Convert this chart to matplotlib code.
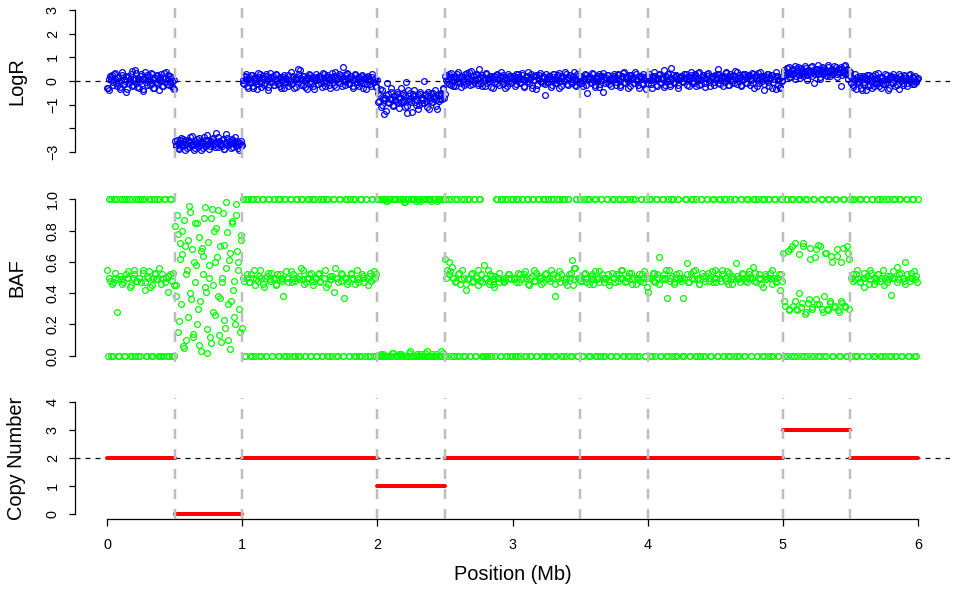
"""
LogR / BAF / copy number panels along a 6 Mb region, drawn like an R base plot.
"""

import matplotlib
matplotlib.use('Agg')
import matplotlib.pyplot as plt
import numpy as np

plt.rcParams['font.family'] = ['Liberation Sans', 'DejaVu Sans']

# ---------------------------------------------------------------------------
# Data.  Two interleaved probe sets per segment,
# each one evenly spaced over the segment.
# ---------------------------------------------------------------------------

# segment bounds in Mb
seg_starts = [0.0, 0.5, 1.0, 2.0, 2.5, 5.0, 5.5]
seg_ends = [0.5, 1.0, 2.0, 2.5, 5.0, 5.5, 6.0]

# --- LogR, probe set 1
logr_a = [-.28, -.38, .22, .15, -.05, .30, .08, -.21, .12, -.35, .05, .25, -.12, .02, -.45,
          .18, -.08, .10, .42, -.18, .06, .35, -.25, .14, -.02, .28, -.32, .09, .38, -.15,
          .04, .20, -.10, .31, -.28, .11, -.06, .24, -.38, .16, .01, -.20, .33, .07, -.14,
          .26, -.04, .12, -.22, -.35]
logr_b = [-2.55, -2.75, -2.62, -2.88, -2.5, -2.68, -2.45, -2.72, -2.6, -2.82, -2.55, -2.38,
          -2.7, -2.65, -2.9, -2.52, -2.6, -2.78, -2.42, -2.66, -2.58, -2.85, -2.5, -2.7,
          -2.28, -2.62, -2.75, -2.55, -2.4, -2.68, -2.8, -2.58, -2.35, -2.7, -2.62, -2.5,
          -2.88, -2.6, -2.22, -2.72, -2.55, -2.65, -2.45, -2.78, -2.58, -2.7, -2.52, -2.82,
          -2.62, -2.75]
logr_c = [.05, -.12, .2, .08, -.3, .15, -.05, .25, -.2, .1, .02, -.35, .18, .3, -.08, .12,
          -.15, .22, .05, -.25, .35, -.02, .14, -.18, .08, .27, -.1, .12, -.22, .04, .16,
          -.3, .1, -.06, .24, .01, -.14, .19, -.28, .12, .07, .5, .3, -.16, .09, .2, -.24,
          .03, .15, -.1, .26, -.02, .11, -.33, .17, .06, -.12, .22, -.07, .13, .28, -.2,
          .04, .18, -.15, .1, .32, -.05, .2, -.26, .08, .14, -.1, .24, .6, .02, -.18, .3,
          .12, -.08, .2, .06, -.22, .27, .1, -.12, .16, -.04, .22, -.3, .08, .18, -.14, .12,
          .02, -.2, .15, -.06, .1, -.25]
logr_d = [-.5, -.85, -.35, -1.0, -.7, -1.4, -.6, -.1, -.9, -.75, -.45, -1.05, -.65, -.8,
          -.55, -.95, -.7, -.3, -.85, -.6, -1.1, -.05, -1.35, -.75, -.5, -.9, -.65, -.4,
          -1.0, -.8, -1.2, -.55, -.7, -.95, 0.0, -.6, -.85, -.45, -1.2, -.7, -.9, -.5,
          -.65, -.8, -1.2, -.55, -.75, -.6, -.35, -.7]
logr_e = [.2, -.05, .1, .28, -.15, .05, .18, -.22, .12, .3, .02, -.1, .22, .08, -.18, .15,
          .35, -.05, .1, .42, -.12, .2, .05, .25, -.08,
          .5, .12, -.2, .18, .04, .3, -.1, .15, .22, -.25, .08, .2, -.05, .28, .1, -.15,
          .16, .02, .25, -.3, .12, .06, .2, -.1, .14,
          .08, .22, -.12, .15, .3, -.05, .1, .26, -.2, .04, .18, .38, -.08, .12, -.3, .2,
          .06, .24, -.15, .1, .32, .02, -.1, .16, -.6,
          .12, -.05, .22, .08, -.18, .28, .1, -.1, .2, .35, .02, -.22, .15, .06, .3, -.12,
          .18, .25, -.05, .1, .4, -.15, .08, .2, -.08,
          .05, .15, -.2, .1, .25, -.5, .08, .18, -.1, .3, .02, -.15, .12, .22, -.25, .06,
          .2, .32, -.08, .14, .26, -.12, .04, .18, .1,
          .22, -.05, .12, .3, -.15, .08, .2, .36, -.1, .15, .02, .25, -.2, .1, .18, -.08,
          .28, .05, -.3, .16, .22, -.12, .1, .06, .2,
          -.1, .18, .05, -.3, .12, .22, -.18, .08, .3, -.05, .15, .1, -.25, .2, .02, .28,
          -.12, .55, .1, -.08, .18, .25, -.15, .06, .14,
          .22, -.05, .12, .3, .08, -.2, .16, .26, .02, -.1, .2, .1, .34, -.15, .06, .18,
          .24, -.08, .12, .3, .04, -.22, .15, .2, -.05,
          .1, .28, .5, -.12, .18, .08, .22, -.05, .32, .14, -.18, .2, .06, .26, -.1, .12,
          .38, .02, .18, -.15, .24, .1, .3, -.08, .16,
          .2, .05, .34, -.1, .15, .26, -.2, .1, .4, .02, .22, -.12, .18, .3, -.05, .12,
          .24, -.28, .08, .2, .36, -.15, .1, -.25, .05]
logr_f = [.2, .45, .3, .55, .15, .4, .28, .5, .35, .1, .42, .6, .25, .38, .48, .2, .33, .55,
          .05, .4, .3, .62, .45, -.1, .36, .5, .28, .15, .42, .58, .32, .46, .25, .66, .38,
          .2, .5, .35, .44, .6, .28, .4, .52, -.22, .36, .62, .3, .48, .1, .42]
logr_g = [-.1, .12, -.25, .05, -.35, .18, -.05, .1, -.38, .2, -.15, .08, .25, -.2, .02, .15,
          -.3, .1, .28, -.08, .05, -.22, .18, .12, -.12, .3, -.05, .08, -.28, .15, .22, -.1,
          .04, .18, -.18, .1, .3, -.02, .12, -.15, .2, .06, -.08, .25, .1, -.12, .16, .02,
          -.05, .1]

# --- LogR, probe set 2
logr_a2 = [-.3, .1, .05, .25, -.15, .32, -.08, .18, .02, -.25, .4, -.12, .08, .22, -.35, .15,
           -.02, .3, -.2, .12, .45, -.1, .05, -.28, .2, .1, -.42, .16, -.05, .26, .02, -.18,
           .34, .08, -.3, .12, .22, -.1, .04, .3, -.22, .14, -.06, .38, .1, -.15, .2, .0,
           -.3, .06]
logr_b2 = [-2.7, -2.5, -2.82, -2.6, -2.4, -2.75, -2.55, -2.92, -2.65, -2.48, -2.78, -2.58,
           -2.32, -2.7, -2.85, -2.6, -2.45, -2.72, -2.55, -2.9, -2.62, -2.38, -2.76, -2.5,
           -2.68, -2.86, -2.56, -2.44, -2.7, -2.6, -2.2, -2.8, -2.52, -2.66, -2.74, -2.46,
           -2.88, -2.6, -2.4, -2.7, -2.56, -2.82, -2.48, -2.64, -2.36, -2.76, -2.6, -2.9,
           -2.55, -2.7]
logr_c2 = [-.08, .15, .3, -.2, .1, -.02, .24, -.3, .06, .18, -.12, .34, .02, -.25, .12, .2,
           -.1, .28, -.38, .08, .15, -.05, .22, -.18, .3, .04, -.14, .18, -.3, .1, .26, -.06,
           .14, -.22, .02, .36, -.1, .2, .08, -.26, .16, -.04, .45, .1, -.18, .22, .04, -.32,
           .14, .28, -.08, .18, -.2, .06, .3, -.12, .2, .1, -.24, .35, .02, -.1, .26, .12,
           -.3, .18, .08, -.16, .4, .05, -.06, .3, .16, -.22, .1, .24, -.02, .34, -.14, .12,
           .2, -.28, .08, .3, -.06, .16, -.2, .04, .26, -.1, .14, -.35, .2, .08, -.12, .28,
           -.04, .1, -.2, .05]
logr_d2 = [-.9, -.6, -1.1, -.4, -.8, -.7, -1.25, -.55, -.95, -.3, -.75, -1.0, -.6, -.85,
           -.45, -1.15, -.7, -.9, -.5, -.8, -.65, -1.05, -.4, -.85, -.7, -1.3, -.55, -.9,
           -.75, -.6, -1.0, -.45, -.8, -.7, -.95, -.55, -1.1, -.65, -.8, -.5, -.9, -.7, -.4,
           -1.05, -.6, -.85, -.5, -.75, -.3, -.55]
logr_e2 = [.05, .25, -.12, .15, .32, -.2, .1, .2, -.05, .36, .12, -.25, .18, .02, .28, -.1,
           .14, .4, -.15, .06, .22, -.05, .3, .1, -.18,
           .15, -.08, .26, .06, -.2, .34, .1, -.02, .2, .12, -.3, .18, .26, -.1, .04, .22,
           .36, -.14, .1, .16, -.22, .3, .02, .2, -.06,
           .12, -.2, .28, .04, .18, -.1, .34, .08, -.25, .15, .22, -.02, .1, .3, -.16, .06,
           .2, -.35, .14, .26, -.05, .12, .2, -.12, .3,
           -.05, .2, .1, -.25, .16, .3, -.1, .06, .24, -.3, .12, .2, -.02, .36, .08, -.18,
           .14, .26, -.1, .2, .04, -.22, .3, .1, .18,
           .22, -.1, .12, .28, -.18, .06, .2, -.05, .34, .1, -.24, .16, .02, .3, -.12, .22,
           -.45, .1, .18, -.06, .26, .04, -.2, .14, .3,
           .1, -.15, .24, .06, -.25, .18, .32, -.05, .12, .2, -.3, .08, .26, .14, -.1, .36,
           .02, -.18, .2, .1, -.08, .28, .16, -.35, .12,
           .3, .05, -.12, .2, .38, .08, -.2, .14, .24, -.08, .1, .45, -.15, .18, .3, .02,
           -.22, .12, .26, -.05, .2, .08, -.3, .16, .22,
           -.02, .3, .12, -.18, .22, .06, .36, -.1, .16, .28, -.2, .1, .4, .04, -.12, .24,
           .14, -.25, .2, .32, -.06, .1, .18, -.15, .26,
           .16, -.1, .3, .06, .22, -.2, .12, .36, .04, -.15, .28, .1, -.05, .2, .42, -.12,
           .14, .26, -.22, .08, .3, .18, -.08, .12, .24,
           -.15, .1, .28, -.3, .16, .06, .32, -.1, .2, .12, -.36, .22, .04, .3, -.2, .14,
           .26, -.05, .1, -.32, .2, .06, -.28, .16, .02]
logr_f2 = [.4, .25, .55, .3, .6, .18, .45, .35, .65, .22, .5, .38, .12, .55, .3, .42, .62,
           .26, .48, .36, .58, .2, .44, .3, .52, .66, .34, .1, .46, .28, .56, .4, .22, .6,
           .36, .48, .3, .64, .42, .18, .5, .34, .58, .26, .44, .68, .32, .5, .24, .4]
logr_g2 = [.15, -.18, .08, .3, -.1, .02, .22, -.28, .12, -.05, .18, -.4, .1, .26, -.15, .05,
           .2, -.22, .14, -.08, .32, .0, -.3, .16, .06, -.12, .24, -.38, .1, .18, -.05, .28,
           -.2, .08, .14, -.32, .2, .04, -.1, .26, .12, -.2, .08, .3, -.06, .16, -.14, .22,
           .02, .12]

# --- BAF, probe set 1
baf_a = [.55, 1, .48, 0, .47, 1, .5, .28, 0, 1, .49, .46, 1, 0, .52, .5, 1, .44, 0, .5, .55,
         1, .48, 0, 1, .47, .53, 1, .42, 0, .5, .54, 1, .45, 0, .52, .49, 1, .56, 0, 0, .5,
         1, .47, 0, .51, .52, 1, 0, .45]
baf_b = [.83, .38, .78, .22, .72, .65, .06, .87, .1, .55, .74, .92, .36, .14, .6, .47, .85,
         .3, .07, .67, .69, .52, .95, .41, .02, .58, .12, .88, .45, .8, .26, .63, .93, .37,
         .09, .5, .71, .18, .98, .33, .61, .04, .85, .42, .25, .9, .67, .55, .15, .77]
baf_c = [1, .48, 0, .5, 1, .47, .52, 0, 1, .45, .49, 1, 0, .55, .5, 1, .44, 0, .51, 1, .48,
         .53, 0, 1, .5, .46, 1, 0, .52, .49, .38, 1, 0, .5, .47, 1, .54, 0, .5, .48, 1, 0,
         .51, .56, 1, .49, 0, .47, .5, 1, 0, .53, .45, 1, .5, 0, .52, .48, 1, 0, .5, .55, 1,
         .46, 0, .49, .51, 1, .41, 0, .5, .47, 1, .53, 0, .37, .5, 1, .48, 0, .52, .5, 1,
         .46, 0, .55, .49, 1, 0, .51, .47, 1, .5, 0, .53, .48, 1, 0, .5, .52]
baf_d = [0, 1, 1, 0, .01, 1, 0, .99, 0, 1, 0, .02, 1, 1, 0, 0, 1, .01, 0, 1, .98, 0, 1, 0,
         .03, 1, 0, 1, 0, .01, 1, .99, 0, 1, 0, .02, 0, 1, 1, 0, .01, 0, 1, 0, .99, 1, 0,
         .03, 1, 0]
baf_e = [.62, .55, 1, .52, 0, .57, .5, 1, .48, 0, .53, .46, 1, 0, .5, .42, 1, .49, 0, .52,
         .47, 1, 0, .51, .55,
         1, .48, 0, 0, .58, .5, 0, .46, .52, 0, .49, .44, .51, 1, .5, .47, 0, 1, .48, .5,
         0, 1, .52, 0, .49,
         1, .5, .47, 0, 1, .52, .49, 1, 0, .54, .5, 1, .45, 0, .51, 1, .48, .53, 0, 1, .5,
         .46, 1, 0, .52,
         .49, 1, 0, .55, .5, 1, .38, 0, .51, 1, .47, .52, 0, 1, .5, .45, 1, 0, .53, .61, .49,
         .56, 1, 0, .5,
         1, .48, 0, .52, .5, 1, .46, 0, .51, .49, 1, .54, 0, .5, .47, 1, .52, 0, .49, .5, 1,
         .45, 0, .53, .5,
         1, .52, 0, .48, 1, .55, .5, 0, .47, 1, .51, .53, 0, .49, 1, .5, .46, 0, .52, .48, 1,
         .5, .54, 0, .44,
         .41, 1, .5, 0, .53, .47, 1, .52, .63, 0, .49, 1, .5, .55, .37, 0, .48, 1, .51, .46,
         0, .5, 1, .53, .49,
         0, .37, .5, 1, .59, .47, 0, .52, 1, .49, .55, 0, .5, .46, 1, .53, 0, .48, .51, 1,
         .5, 0, .54, .47, 1,
         .5, 0, .52, 1, .48, .55, 0, .5, 1, .46, .53, 0, .51, .49, 1, .59, 0, .5, .47, 1,
         .52, 0, .48, .5, 1,
         .54, 0, .5, .57, 1, .47, 0, .52, .49, 1, .44, 0, .51, .5, 1, .53, 0, .46, .5, 1,
         .48, 0, .52, .42, 1]
baf_f = [.66, .35, 1, 0, .3, .68, 1, .32, 0, .72, .29, 1, .4, 0, .34, .7, 1, .28, 0, .36,
         .62, .31, 1, 0, .68, .33, .71, 0, 1, .3, .38, .66, 0, .29, 1, .34, .6, 0, .32, 1,
         .64, .28, 0, .35, .69, 1, .31, 0, .66, .62]
baf_g = [.5, 1, .48, 0, .52, .55, 1, .47, 0, .5, .44, 1, .51, 0, .49, .53, 1, .46, 0, .5,
         .52, 1, .48, 0, .55, .5, 1, .47, 0, .51, .39, 1, .5, 0, .57, .49, 1, .53, 0, .5,
         .46, 1, .52, 0, .48, .5, 1, .54, 0, .47]

# --- BAF, probe set 2
baf_a2 = [0, .5, 1, .46, 0, .53, 1, .49, 0, .51, 1, .47, 0, 1, .5, .54, 0, .45, 1, .52, 0,
          .48, 1, .5, 0, 1, .55, .47, 0, .51, 1, .44, 0, .5, 1, .53, .49, 0, 1, .46, .52, 0,
          1, .5, .41, 0, 1, .48, .53, 0]
baf_b2 = [.45, .9, .15, .62, .33, .8, .05, .7, .52, .25, .96, .4, .68, .12, .85, .58, .2,
          .76, .35, .03, .64, .88, .44, .17, .73, .5, .08, .94, .28, .6, .82, .38, .13, .7,
          .47, .91, .23, .56, .79, .1, .66, .35, .86, .48, .2, .97, .6, .3, .74, .18]
baf_c2 = [.5, 0, 1, .52, .47, 0, 1, .5, .55, 0, 1, .48, .51, 0, 1, .46, .5, 0, .53, 1, .49,
          0, .5, 1, .45, .52, 0, 1, .5, .48, 0, 1, .54, .5, 0, 1, .47, .52, 0, 1, .5, .49, 0,
          1, .55, .46, 0, 1, .5, .52, 0, 1, .48, .5, 0, 1, .53, .47, 0, 1, .5, .44, 0, 1,
          .51, .49, 0, 1, .56, .5, 0, 1, .48, .52, 0, 1, .5, .46, 0, 1, .53, .49, 0, 1, .5,
          .47, 0, 1, .52, .5, 0, 1, .45, .51, 0, 1, .49, .54, 0, 1]
baf_d2 = [1, 0, .01, 1, 0, 1, .99, 0, 1, 0, .02, 1, 0, 1, 0, .01, 1, 0, 1, .98, 0, 0, 1, .02,
          1, 0, 1, 0, .99, 0, 1, .01, 0, 1, 0, 1, .03, 0, 1, .99, 0, 1, 0, .01, 1, 0, 1, 0,
          .02, 1]
baf_e2 = [.5, 0, .6, .54, 1, .5, 0, .47, 1, .52, 0, .49, .55, 1, 0, .46, .5, 1, 0, .53, .48,
          1, 0, .5, .45,
          1, .52, .47, 0, .5, 0, .55, .48, 0, .51, .46, 0, 1, .5, .53, 0, 1, .49, .47, 1, 0,
          .52, .5, 1, 0,
          .49, 0, 1, .53, .47, 0, 1, .5, .52, 0, 1, .46, .5, 0, 1, .55, .48, 0, 1, .51, .5,
          0, .47, 1, .53,
          0, .5, .48, 1, .52, 0, .46, 1, .5, .54, 0, 1, .49, .47, 0, 1, .52, .5, 0, .45, .56,
          1, 0, .5, .48,
          .5, 0, 1, .53, .47, 0, 1, .5, .52, .46, 0, 1, .49, .54, 0, 1, .5, .47, 0, 1, .52,
          .48, 0, 1, .5,
          .47, 0, 1, .52, .5, .55, 0, 1, .48, .5, 0, 1, .53, .46, 0, 1, .5, .49, 0, 1, .52,
          .47, 0, 1, .5,
          .5, 0, 1, .48, .53, 0, 1, .5, .46, 0, 1, .52, .49, 0, 1, .55, .5, 0, 1, .47, .52, 0,
          1, .5, .48,
          .5, 0, 1, .52, .47, 0, 1, .5, .54, 0, 1, .49, .46, 0, 1, .51, .5, 0, 1, .53, .48, 0,
          1, .5, .55,
          .47, 0, 1, .5, .52, 0, 1, .48, .54, 0, 1, .5, .46, 0, 1, .51, .49, 0, 1, .53, .5, 0,
          1, .47, .52,
          .5, 0, 1, .48, .53, 0, 1, .5, .46, 0, 1, .52, .49, 0, 1, .5, .55, 0, 1, .47, .5, 0,
          1, .52, .48]
baf_f2 = [0, .32, 1, .67, .29, 0, .7, 1, .35, .3, 0, .65, 1, .31, .72, 0, .27, 1, .34, .69,
          0, .3, 1, .63, .36, 0, .33, .7, 1, .28, 0, .66, .3, 1, .35, .64, 0, .31, 1, .68,
          .29, 0, .6, .34, 1, .32, 0, .7, .3, 1]
baf_g2 = [0, .52, 1, .49, 0, .5, .47, 1, 0, .53, .5, 1, 0, .46, .55, 1, 0, .5, .48, 1, .52,
          0, .5, 1, .45, 0, .51, .49, 1, 0, .5, .54, 1, 0, .47, .52, 1, 0, .5, .48, .6, 1, 0,
          .5, .53, 1, 0, .49, .51, 1]

logr_sets = [(logr_a, logr_a2), (logr_b, logr_b2), (logr_c, logr_c2), (logr_d, logr_d2),
             (logr_e, logr_e2), (logr_f, logr_f2), (logr_g, logr_g2)]
baf_sets = [(baf_a, baf_a2), (baf_b, baf_b2), (baf_c, baf_c2), (baf_d, baf_d2),
            (baf_e, baf_e2), (baf_f, baf_f2), (baf_g, baf_g2)]

# copy number calls (segments)
cn_starts = [0.0, 0.5, 1.0, 2.0, 2.5, 3.5, 4.0, 5.0, 5.5]
cn_ends = [0.5, 1.0, 2.0, 2.5, 3.5, 4.0, 5.0, 5.5, 6.0]
cn_values = [2, 0, 2, 1, 2, 2, 2, 3, 2]

logr_ticks = [3, 2, 1, 0, -1, -2, -3]
logr_ticklabels = ['3', '2', '1', '0', '\u22121', '', '\u22123']
baf_ticks = [0.0, 0.2, 0.4, 0.6, 0.8, 1.0]
cn_ticks = [0, 1, 2, 3, 4]
x_ticks = [0, 1, 2, 3, 4, 5, 6]

# ---------------------------------------------------------------------------
# Layout (pixels of a 957 x 590 canvas)
# ---------------------------------------------------------------------------
W, H = 957, 590
PX = 72 / 100  # points per pixel at dpi 100
left_px, right_px = 74.6, 950.4
panels_px = [(4.3, 157.7), (193.1, 362.0), (397.8, 518.5)]
TICK_FS = 10.4


def axes_rect(top, bottom):
    return [left_px / W, 1 - bottom / H, (right_px - left_px) / W, (bottom - top) / H]


def probe_positions(start, end, n, shift):
    step = (end - start) / n
    return start + step * (np.arange(n) + shift)


def style_axis(ax, ylim, yticks, ylabels, with_x=False):
    ax.set_xlim(-0.24, 6.24)
    pad = 0.04 * (ylim[1] - ylim[0])
    ax.set_ylim(ylim[0] - pad, ylim[1] + pad)
    for side in ['top', 'right', 'bottom']:
        ax.spines[side].set_visible(False)
    ax.spines['left'].set_bounds(ylim[0], ylim[1])
    ax.spines['left'].set_linewidth(1.25 * PX)
    ax.set_yticks(yticks)
    ax.set_yticklabels(ylabels, rotation=90, va='center')
    ax.tick_params(axis='y', length=6.5 * PX, width=1.25 * PX, pad=6, labelsize=TICK_FS)
    if with_x:
        ax.spines['bottom'].set_visible(True)
        ax.spines['bottom'].set_bounds(0, 6)
        ax.spines['bottom'].set_linewidth(1.25 * PX)
        ax.set_xticks(x_ticks)
        ax.set_xticklabels([str(t) for t in x_ticks])
        ax.tick_params(axis='x', length=6.5 * PX, width=1.25 * PX, pad=9.5, labelsize=TICK_FS)
    else:
        ax.set_xticks([])


def add_boundaries(ax):
    # grey dashed lines at every segment boundary
    for b in cn_ends[:-1]:
        ax.axvline(b, color='#BEBEBE', lw=2.5 * PX, linestyle=(0, (4, 4)), zorder=4)


def plot_probes(ax, sets, color):
    for s, e, (first, second) in zip(seg_starts, seg_ends, sets):
        for vals, shift in [(first, 0.25), (second, 0.75)]:
            ax.plot(probe_positions(s, e, len(vals), shift), vals, mec=color, zorder=2,
                    **point_style)


fig = plt.figure(figsize=(W / 100, H / 100), dpi=100)
ax1 = fig.add_axes(axes_rect(*panels_px[0]))
ax2 = fig.add_axes(axes_rect(*panels_px[1]))
ax3 = fig.add_axes(axes_rect(*panels_px[2]))

point_style = dict(linestyle='none', marker='o', mfc='none', ms=5.8 * PX, mew=1.25 * PX)

# LogR
plot_probes(ax1, logr_sets, '#0000FF')
ax1.axhline(0, color='black', lw=1.25 * PX, linestyle=(0, (4, 4)), zorder=3)
add_boundaries(ax1)
style_axis(ax1, (-3, 3), logr_ticks, logr_ticklabels)

# BAF
plot_probes(ax2, baf_sets, '#00FF00')
add_boundaries(ax2)
style_axis(ax2, (0, 1), baf_ticks, ['%.1f' % t for t in baf_ticks])

# copy number
ax3.axhline(2, color='black', lw=1.25 * PX, linestyle=(0, (4, 4)), zorder=2)
for s, e, v in zip(cn_starts, cn_ends, cn_values):
    ax3.plot([s, e], [v, v], color='#FF0000', lw=4 * PX, solid_capstyle='round', zorder=3)
add_boundaries(ax3)
style_axis(ax3, (0, 4), cn_ticks, [str(t) for t in cn_ticks], with_x=True)

# axis titles
label_x = 22 / W
for (top, bottom), text in zip(panels_px, ['LogR', 'BAF', 'Copy Number']):
    fig.text(label_x, 1 - (top + bottom) / 2 / H, text, rotation=90, rotation_mode='anchor',
             ha='center', va='baseline', fontsize=14.4)
fig.text((107 + 918) / 2 / W, 1 - 580 / H, 'Position (Mb)', ha='center', va='baseline',
         fontsize=14.4)

fig.savefig('out.png', dpi=100)
